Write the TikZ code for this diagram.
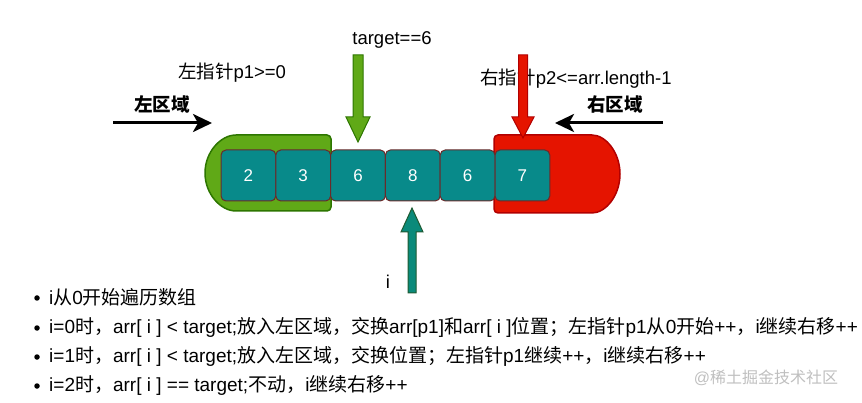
\documentclass[tikz,border=0pt]{standalone}
\usepackage{fontspec}
\setmainfont{Liberation Sans}
\newfontfamily\cjk{Noto Sans CJK SC}
\usetikzlibrary{arrows.meta}
\newcommand{\zh}[1]{{\cjk #1}}
\definecolor{gfill}{HTML}{60A917}
\definecolor{gline}{HTML}{2D7600}
\definecolor{rfill}{HTML}{E51400}
\definecolor{rline}{HTML}{B20000}
\definecolor{cellfill}{HTML}{088A8A}
\definecolor{cellline}{HTML}{6B2A2A}
\definecolor{ifill}{HTML}{0A8A7A}
\definecolor{iline}{HTML}{1E5A32}
\tikzset{
  cellbox/.style={draw=cellline, line width=1pt, fill=cellfill, rounded corners=5pt,
    minimum width=54.8pt, minimum height=51pt, inner sep=0pt, text=white,
    font=\fontsize{17}{20}\selectfont},
  lbl/.style={inner sep=0pt, font=\fontsize{18.5}{22}\selectfont},
  blbl/.style={inner sep=0pt, font=\fontsize{18.5}{22}\selectfont\bfseries},
  itemtxt/.style={inner sep=0pt, anchor=west, font=\fontsize{19}{22}\selectfont},
  bulletdot/.style={circle, fill=black, inner sep=0pt, minimum size=5.5pt},
  zonearrow/.style={line width=3pt, -{Stealth[length=19pt, width=18pt, inset=5pt]}},
  blockg/.style={fill=gfill, draw=gline, line width=1pt},
  blockr/.style={fill=rfill, draw=rline, line width=1pt},
  blocki/.style={fill=ifill, draw=iline, line width=1pt},
}
\begin{document}
\begin{tikzpicture}[x=1pt,y=-1pt]
\useasboundingbox (0,0) rectangle (862,403);
% zones
\draw[fill=gfill, draw=gline, line width=1.5pt, rounded corners=4pt]
  (331,135) -- (240,135) arc[start angle=270, end angle=90, x radius=35, y radius=38] -- (331,211) -- cycle;
\draw[fill=rfill, draw=rline, line width=1.5pt, rounded corners=4pt]
  (494,135) -- (588,135) arc[start angle=270, end angle=450, x radius=32, y radius=39] -- (494,213) -- cycle;
% cells
\node[cellbox] (c0) at (248.4,175.5) {2};
\node[cellbox] (c1) at (303.2,175.5) {3};
\node[cellbox] (c2) at (358.0,175.5) {6};
\node[cellbox] (c3) at (412.8,175.5) {8};
\node[cellbox] (c4) at (467.6,175.5) {6};
\node[cellbox] (c5) at (522.4,175.5) {7};
% labels
\node[lbl] (tgt) at (392,40) {target==6};
\node[lbl] (lp) at (232,73) {\zh{左指针}p1>=0};
\node[lbl] (rp) at (576,79) {\zh{右指针}p2<=arr.length-1};
\node[blbl] (lz) at (162,104) {\zh{\bfseries 左区域}};
\node[blbl] (rz) at (615,104) {\zh{\bfseries 右区域}};
\node[lbl] (il) at (388,282) {i};
% black zone arrows
\coordinate (la) at (113,123);
\coordinate (lb) at (212,123);
\coordinate (ra) at (663,123);
\coordinate (rb) at (555,123);
\draw[zonearrow] (la) -- (lb);
\draw[zonearrow] (ra) -- (rb);
% block arrows
\draw[blockg] (353,55) -- (363,55) -- (363,117) -- (370,117) -- (358,142) -- (346,117) -- (353,117) -- cycle;
\draw[blockr] (518.5,55) -- (527.5,55) -- (527.5,117) -- (534,117) -- (523,138) -- (512,117) -- (518.5,117) -- cycle;
\draw[blocki] (412,208) -- (423,232) -- (416,232) -- (416,293) -- (408,293) -- (408,232) -- (401,232) -- cycle;
% bullet list
\foreach \yy/\nm in {298/b1,328/b2,357/b3,386/b4} {
  \node[bulletdot] (\nm) at (37,\yy) {};
}
\node[itemtxt] (t1) at (49,297) {i\zh{从}0\zh{开始遍历数组}};
\node[itemtxt] (t2) at (49,327) {i=0\zh{时，}arr[ i ] < target;\zh{放入左区域，交换}arr[p1]\zh{和}arr[ i ]\zh{位置；左指针}p1\zh{从}0\zh{开始}++\zh{，}i\zh{继续右移}++};
\node[itemtxt] (t3) at (49,356) {i=1\zh{时，}arr[ i ] < target;\zh{放入左区域，交换位置；左指针}p1\zh{继续}++\zh{，}i\zh{继续右移}++};
\node[itemtxt] (t4) at (49,385) {i=2\zh{时，}arr[ i ] == target;\zh{不动，}i\zh{继续右移}++};
\node[inner sep=0pt, text=black!25, font=\fontsize{16}{18}\selectfont] (wm) at (766,378) {@\zh{稀土掘金技术社区}};
\end{tikzpicture}
\end{document}
